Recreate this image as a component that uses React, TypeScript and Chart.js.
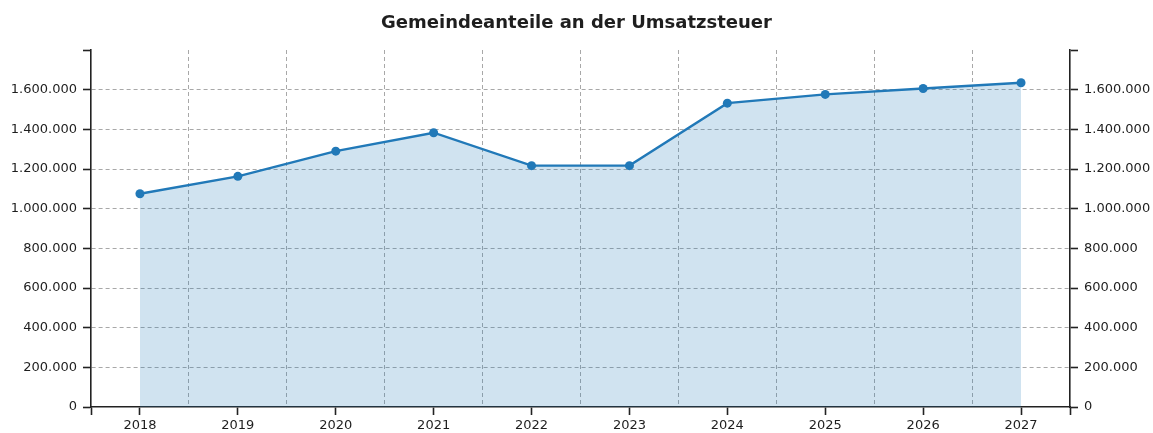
import React, { useEffect, useRef } from "react";
import { Chart, registerables } from "chart.js";

Chart.register(...registerables);

const years = ["2018", "2019", "2020", "2021", "2022", "2023", "2024", "2025", "2026", "2027"];
const values = [1075000, 1163000, 1290000, 1383000, 1217000, 1217000, 1532000, 1576000, 1606000, 1635000];
const yTickValues = [0, 200000, 400000, 600000, 800000, 1000000, 1200000, 1400000, 1600000, 1800000];
const titleText = "Gemeindeanteile an der Umsatzsteuer";

const FONT = "'DejaVu Sans', Verdana, sans-serif";
const AXIS = "#222222";
const GRID = "#a8a8a8";
const TEXT = "#1e1e1e";
const LINE = "#2179b8";
const FILL = "rgba(33,121,184,0.21)";
const Y_MAX = 1800000;

const fmt = (v: number) => String(v).replace(/\B(?=(\d{3})+(?!\d))/g, ".");

export default function App() {
  const ref = useRef<HTMLCanvasElement | null>(null);

  useEffect(() => {
    if (!ref.current) return;
    const n = years.length;
    const xTickVals: number[] = [];
    for (let i = -1; i < n; i++) {
      xTickVals.push(i + 0.5);
      if (i + 1 < n) xTickVals.push(i + 1);
    }
    xTickVals.sort((a, b) => a - b);

    const yScaleBase = (pos: "left" | "right", width: number, main: boolean) => ({
      type: "linear" as const,
      position: pos,
      min: 0,
      max: Y_MAX,
      afterBuildTicks: (s: any) => {
        s.ticks = yTickValues.map((v) => ({ value: v }));
      },
      afterFit: (s: any) => {
        s.width = width;
      },
      grid: {
        drawOnChartArea: main,
        color: (c: any) => {
          const v = c.tick ? c.tick.value : undefined;
          return v === undefined || v === 0 || v === Y_MAX ? "rgba(0,0,0,0)" : GRID;
        },
        tickColor: AXIS,
        tickLength: 8,
        lineWidth: 1,
        tickWidth: 1.6,
      },
      border: { display: true, color: AXIS, width: 1.6, dash: [4, 3] },
      ticks: {
        padding: 6,
        color: TEXT,
        font: { family: FONT, size: 13 },
        callback: (v: any) => (v === Y_MAX ? "" : fmt(Number(v))),
      },
    });

    const isInterior = (v: number) => !Number.isInteger(v) && v > 0 && v < n - 1;

    const chart = new Chart(ref.current, {
      type: "line",
      data: {
        labels: years,
        datasets: [
          {
            data: values,
            borderColor: LINE,
            backgroundColor: FILL,
            borderWidth: 2.4,
            fill: "origin",
            pointRadius: 4.5,
            pointBorderWidth: 0,
            pointBackgroundColor: LINE,
            pointBorderColor: LINE,
            tension: 0,
            yAxisID: "y",
          },
        ],
      },
      options: {
        animation: false,
        responsive: true,
        maintainAspectRatio: false,
        layout: { padding: 0 },
        plugins: {
          legend: { display: false },
          tooltip: { enabled: false },
          title: {
            display: true,
            text: titleText,
            color: TEXT,
            font: { family: FONT, size: 18, weight: "bold" },
            padding: { top: 13, bottom: 15.4 },
          },
        },
        scales: {
          x: {
            type: "category",
            offset: true,
            afterBuildTicks: (s: any) => {
              s.ticks = xTickVals.map((v) => ({ value: v }));
            },
            afterFit: (s: any) => {
              s.height = 26;
            },
            grid: {
              offset: false,
              color: (c: any) => {
                const v = c.tick ? c.tick.value : undefined;
                if (v === undefined) return "rgba(0,0,0,0)";
                return isInterior(v) ? GRID : "rgba(0,0,0,0)";
              },
              tickColor: (c: any) => {
                const v = c.tick ? c.tick.value : undefined;
                if (v === undefined) return "rgba(0,0,0,0)";
                return isInterior(v) ? "rgba(0,0,0,0)" : AXIS;
              },
              tickLength: 8,
              lineWidth: 1,
              tickWidth: 1.6,
            },
            border: { display: true, color: AXIS, width: 1.6, dash: [4, 3] },
            ticks: {
              autoSkip: false,
              maxRotation: 0,
              minRotation: 0,
              padding: 3,
              color: TEXT,
              font: { family: FONT, size: 13 },
              callback: (v: any) => (Number.isInteger(v) && v >= 0 && v < n ? years[v] : ""),
            },
          },
          y: yScaleBase("left", 91, true) as any,
          y2: yScaleBase("right", 83, false) as any,
        },
      },
    });
    return () => chart.destroy();
  }, []);

  return (
    <div style={{ position: "absolute", left: 0, top: 0, width: 1153, height: 433 }}>
      <canvas ref={ref} />
    </div>
  );
}
